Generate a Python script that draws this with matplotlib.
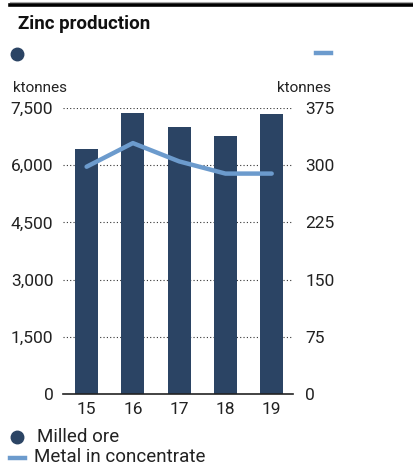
import matplotlib
matplotlib.use("Agg")
import matplotlib.pyplot as plt
from matplotlib.lines import Line2D

plt.rcParams['font.family'] = ['Roboto', 'DejaVu Sans']

# data
years = ['15', '16', '17', '18', '19']
milled_ore = [6425, 7370, 7000, 6770, 7345]          # ktonnes, left axis
metal_conc = [298, 329, 305, 289, 289]               # ktonnes, right axis
left_ticks = [0, 1500, 3000, 4500, 6000, 7500]
right_ticks = [0, 75, 150, 225, 300, 375]

bar_color = '#2b4464'
line_color = '#6c9bcd'
text_color = '#222222'

W, H = 414, 468
fig = plt.figure(figsize=(W / 100, H / 100), dpi=100)

ax = fig.add_axes([63 / W, 1 - 394 / H, 230 / W, 286 / H])
x = list(range(len(years)))
ax.bar(x, milled_ore, width=0.5, color=bar_color, zorder=3)
ax.set_xlim(-0.51, 4.46)
ax.set_ylim(0, 7500)
ax.set_yticks(left_ticks)
ax.set_yticklabels([f'{t:,}' for t in left_ticks])
ax.set_xticks(x)
ax.set_xticklabels(years)
for t in left_ticks[1:]:
    ax.axhline(t, color='#333333', linestyle=(0, (1, 2)), linewidth=0.8, zorder=1)
ax.axhline(0, color='#222222', linewidth=1.2, zorder=4, clip_on=False)
for s in ax.spines.values():
    s.set_visible(False)
ax.tick_params(axis='both', length=0, labelsize=12.5, colors=text_color)
ax.tick_params(axis='y', pad=7)
ax.tick_params(axis='x', pad=6)

ax2 = ax.twinx()
ax2.plot(x, metal_conc, color=line_color, linewidth=3.2, solid_capstyle='round',
         solid_joinstyle='round', zorder=5)
ax2.set_ylim(0, 375)
ax2.set_yticks(right_ticks)
for s in ax2.spines.values():
    s.set_visible(False)
ax2.tick_params(axis='y', length=0, labelsize=12.5, colors=text_color, pad=9)

# overlay in pixel coordinates for header / legend decorations
ov = fig.add_axes([0, 0, 1, 1], zorder=-1)
ov.set_xlim(0, W)
ov.set_ylim(H, 0)
ov.axis('off')
ov.add_line(Line2D([10, W], [1.5, 1.5], color='#aaaaaa', linewidth=0.8))
ov.add_line(Line2D([10, W], [5, 5], color='black', linewidth=2.6))
ov.text(18, 24, 'Zinc production', fontsize=13.5, fontweight='bold', va='center',
        ha='left', color='#111111')
ov.plot([17], [54], marker='o', markersize=9, color=bar_color)
ov.add_line(Line2D([316, 331], [53, 53], color=line_color, linewidth=3.2))
ov.text(13, 88, 'ktonnes', fontsize=11, va='center', ha='left', color=text_color)
ov.text(331, 88, 'ktonnes', fontsize=11, va='center', ha='right', color=text_color)

# bottom legend
ov.plot([17], [437], marker='o', markersize=9, color=bar_color)
ov.text(37, 437, 'Milled ore', fontsize=13.5, va='center', ha='left', color=text_color)
ov.add_line(Line2D([10, 25], [458, 458], color=line_color, linewidth=3.2))
ov.text(34, 457, 'Metal in concentrate', fontsize=13.5, va='center', ha='left', color=text_color)

fig.savefig('out.png', dpi=100)
